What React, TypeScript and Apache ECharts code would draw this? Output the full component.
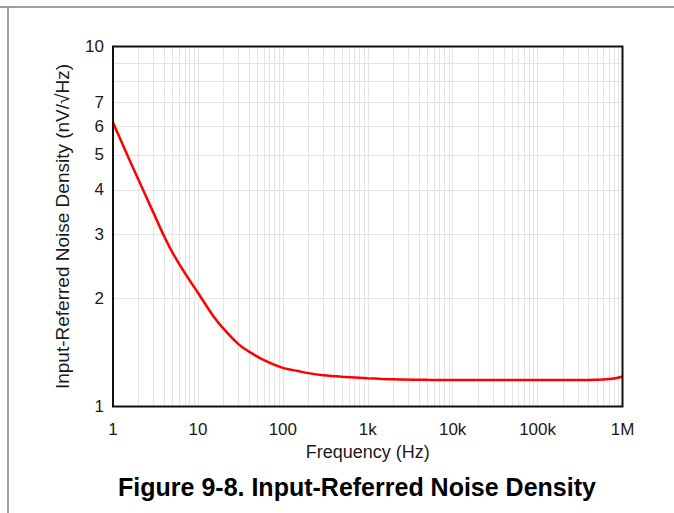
import React, { useEffect, useRef } from "react";
import * as echarts from "echarts";

const freqHz = [1, 1.5, 2, 3, 4, 5, 7, 10, 15, 20, 30, 40, 60, 100, 150, 200, 300, 500, 1000, 2000, 5000, 10000, 100000, 300000, 500000, 700000, 850000, 1000000];
const noiseNV = [6.15, 4.95, 4.26, 3.45, 2.97, 2.68, 2.35, 2.07, 1.79, 1.645, 1.49, 1.42, 1.345, 1.28, 1.255, 1.238, 1.222, 1.21, 1.198, 1.19, 1.186, 1.185, 1.185, 1.185, 1.187, 1.192, 1.2, 1.212];

const xLabelValues = [1, 10, 100, 1000, 10000, 100000, 1000000];
const xLabelTexts = ["1", "10", "100", "1k", "10k", "100k", "1M"];
const yGridValues = [2, 3, 4, 5, 6, 7, 8, 9];
const yLabelValues = [1, 2, 3, 4, 5, 6, 7, 10];
const mantissas = [1, 2, 3, 4, 5, 6, 7, 8, 9];

const xGridValues: number[] = [];
for (let d = 0; d < 6; d++) {
  for (const m of mantissas) {
    if (d === 0 && m === 1) continue;
    xGridValues.push(m * Math.pow(10, d));
  }
}

export default function App() {
  const ref = useRef<HTMLDivElement>(null);
  useEffect(() => {
    if (!ref.current) return;
    const chart = echarts.init(ref.current, null, { renderer: "svg" });
    const font = "'Liberation Sans', Arial, sans-serif";
    chart.setOption({
      animation: false,
      backgroundColor: "#fff",
      grid: {
        left: 113,
        right: 51.5,
        top: 46.5,
        bottom: 106.5,
        show: true,
        borderColor: "#111",
        borderWidth: 2,
        backgroundColor: "transparent",
        z: 10,
      },
      xAxis: {
        type: "log",
        logBase: 10,
        min: 1,
        max: 1000000,
        name: "Frequency (Hz)",
        nameLocation: "middle",
        nameGap: 36,
        nameTextStyle: { fontFamily: font, fontSize: 18, color: "#1a1a1a" },
        axisLine: { show: false },
        axisTick: { show: false, customValues: xGridValues },
        splitLine: { show: true, lineStyle: { color: "#e4e4e4", width: 1 } },
        axisLabel: {
          customValues: xLabelValues,
          margin: 14,
          fontFamily: font,
          fontSize: 17,
          color: "#1a1a1a",
          formatter: (v: number) => {
            const i = xLabelValues.findIndex((x) => Math.abs(x - v) / x < 1e-6);
            return i >= 0 ? xLabelTexts[i] : "";
          },
        },
      },
      yAxis: {
        type: "log",
        logBase: 10,
        min: 1,
        max: 10,
        name: "Input-Referred Noise Density (nV/\u221AHz)",
        nameLocation: "middle",
        nameGap: 41,
        nameTextStyle: { fontFamily: font, fontSize: 19, color: "#1a1a1a" },
        axisLine: { show: false },
        axisTick: { show: false, customValues: yGridValues },
        splitLine: { show: true, lineStyle: { color: "#e4e4e4", width: 1 } },
        axisLabel: {
          customValues: yLabelValues,
          margin: 9,
          fontFamily: font,
          fontSize: 17,
          color: "#1a1a1a",
          formatter: (v: number) => String(Math.round(v)),
        },
      },
      series: [
        {
          type: "line",
          data: freqHz.map((f, i) => [f, noiseNV[i]]),
          smooth: 0.3,
          symbol: "none",
          lineStyle: { color: "#ff0000", width: 2.5 },
          clip: true,
        },
      ],
      graphic: [
        { type: "line", shape: { x1: 0, y1: 7, x2: 674, y2: 7 }, style: { stroke: "#808080", lineWidth: 1.5 } },
        { type: "line", shape: { x1: 8, y1: 7, x2: 8, y2: 513 }, style: { stroke: "#808080", lineWidth: 1.5 } },
        {
          type: "text",
          x: 357,
          y: 487,
          style: {
            text: "Figure 9-8. Input-Referred Noise Density",
            fontFamily: font,
            fontSize: 25,
            fontWeight: "bold",
            fill: "#000",
            textAlign: "center",
            textVerticalAlign: "middle",
          },
        },
      ],
    });
    return () => chart.dispose();
  }, []);
  return (
    <div
      ref={ref}
      style={{ position: "fixed", left: 0, top: 0, width: 674, height: 513 }}
    />
  );
}
